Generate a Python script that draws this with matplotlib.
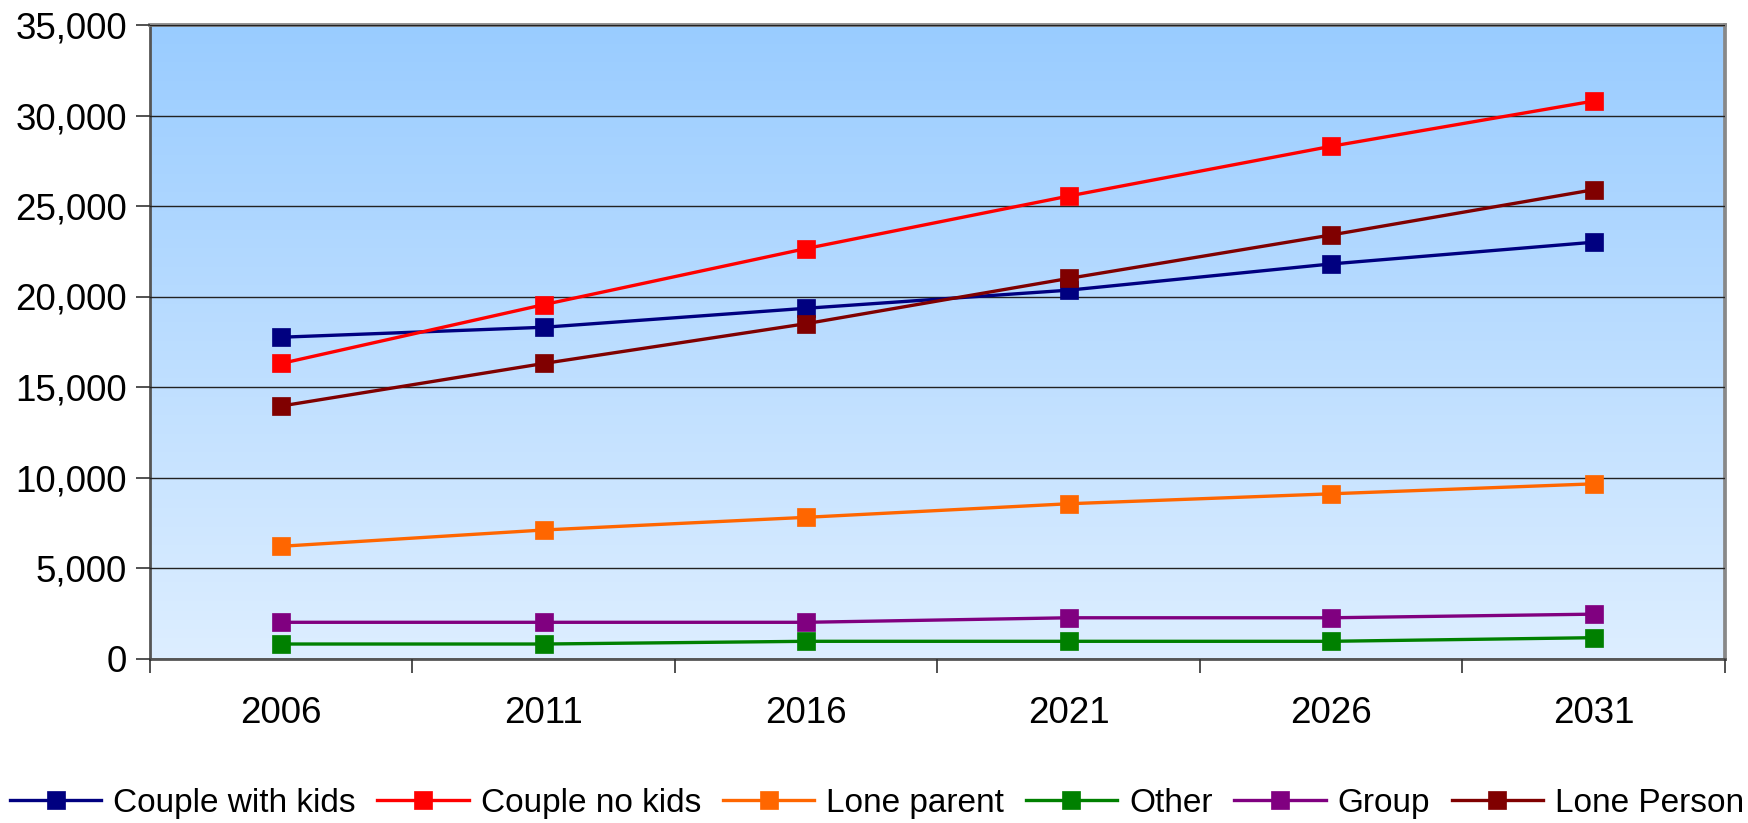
import matplotlib
matplotlib.use("Agg")
import matplotlib.pyplot as plt
import numpy as np
from matplotlib.colors import LinearSegmentedColormap
from matplotlib.ticker import FuncFormatter, MultipleLocator

plt.rcParams['font.family'] = ['Liberation Sans', 'DejaVu Sans']

years = ['2006', '2011', '2016', '2021', '2026', '2031']
couple_kids = [17750, 18300, 19350, 20350, 21800, 23000]
couple_no_kids = [16300, 19550, 22650, 25550, 28300, 30800]
lone_parent = [6200, 7100, 7800, 8550, 9100, 9650]
other = [800, 800, 950, 950, 950, 1150]
group = [2000, 2000, 2000, 2250, 2250, 2450]
lone_person = [13950, 16300, 18500, 21000, 23400, 25900]

series = [
  ("Couple with kids", couple_kids, "#000080"),
  ("Couple no kids", couple_no_kids, "#FF0000"),
  ("Lone parent", lone_parent, "#FF6600"),
  ("Other", other, "#008000"),
  ("Group", group, "#800080"),
  ("Lone Person", lone_person, "#800000"),
]

fig = plt.figure(figsize=(17.49, 8.23), dpi=100)
ax = fig.add_axes([150 / 1749, 1 - 658.5 / 823, (1725 - 150) / 1749, (658.5 - 25) / 823])

x = np.arange(len(years))
ax.set_xlim(-0.5, len(years) - 0.5)
ax.set_ylim(0, 35000)

# gradient background
grad = LinearSegmentedColormap.from_list("bg", ["#DDEEFF", "#99CCFF"])
ax.imshow(np.linspace(0, 1, 256).reshape(-1, 1), cmap=grad, aspect="auto",
          extent=[-0.5, len(years) - 0.5, 0, 35000], origin="lower", zorder=0)

ax.yaxis.set_major_locator(MultipleLocator(5000))
ax.yaxis.set_major_formatter(FuncFormatter(lambda v, p: "{:,.0f}".format(v)))
ax.grid(axis="y", color="#222222", linewidth=1.0, zorder=1)
ax.set_axisbelow(False)

for name, vals, col in series:
  ax.plot(x, vals, color=col, linewidth=2.4, marker="s", markersize=13.5,
          markeredgewidth=0.5, markeredgecolor=col, label=name, zorder=3)

ax.set_xticks(x)
ax.set_xticklabels(years)
ax.set_xticks(np.arange(-0.5, len(years)), minor=True)
ax.tick_params(axis="x", which="major", length=0, pad=27, labelsize=26.5)
ax.tick_params(axis="x", which="minor", length=10, width=1.2, color="#333333", direction="out")
ax.tick_params(axis="y", which="major", length=10, width=1.2, color="#333333", pad=6.5, labelsize=26.5)

for side in ["top", "right"]:
  ax.spines[side].set_color("#888888")
  ax.spines[side].set_linewidth(2.7)
for side in ["left", "bottom"]:
  ax.spines[side].set_color("#555555")
  ax.spines[side].set_linewidth(2.0)

fig.legend(loc="center", bbox_to_anchor=(0.5014, 0.024), ncol=6, frameon=False,
           fontsize=24, handlelength=2.75, handletextpad=0.35, columnspacing=0.65,
           borderaxespad=0, borderpad=0)

fig.savefig("out.png", dpi=100)
